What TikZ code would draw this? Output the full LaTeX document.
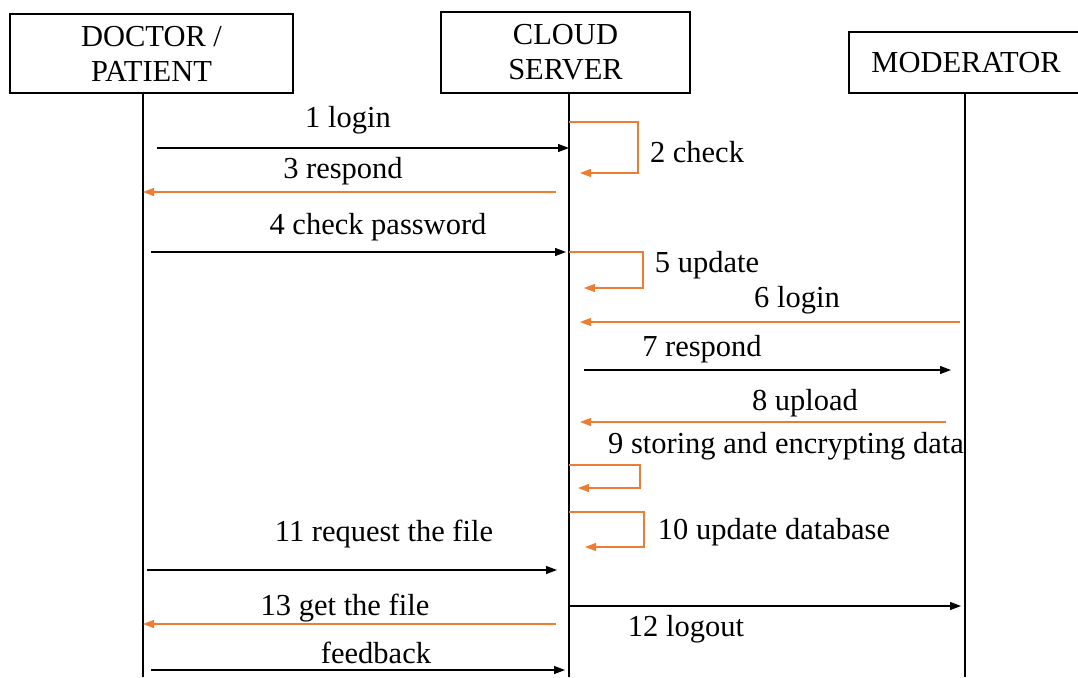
\documentclass[tikz,border=0pt]{standalone}
\usepackage{fontspec}
\setmainfont{Liberation Serif}
\usetikzlibrary{arrows.meta}
\definecolor{msgorange}{HTML}{ED7D31}

\begin{document}
\begin{tikzpicture}[x=1pt,y=-1pt,
  font=\fontsize{30.5}{35}\selectfont,
  actor/.style={draw,line width=1.2pt,align=center,inner sep=0pt},
  lifeline/.style={line width=1.2pt},
  call/.style={line width=1.2pt,-{Triangle[length=11pt,width=8pt]}},
  reply/.style={call,msgorange},
  lbl/.style={inner sep=0pt}]
 \useasboundingbox (0,0) rectangle (1078,677);
 % actors
 \node[actor,minimum width=283pt,minimum height=79pt] (doc) at (151.5,53.5) {DOCTOR /\\PATIENT};
 \node[actor,minimum width=249pt,minimum height=81pt] (cloud) at (565.5,52.5) {CLOUD\\SERVER};
 \node[actor,minimum width=234pt,minimum height=61pt] (mod) at (966,62.5) {MODERATOR};
 % lifelines
 \foreach \n/\x/\y in {doc/143/93, cloud/569/93, mod/965/93}
 {
   \coordinate (\n top) at (\x,\y);
   \coordinate (\n end) at (\x,677);
   \draw[lifeline] (\n top) -- (\n end);
 }
 % messages between lifelines
 \foreach \n/\xa/\xb/\y/\sty in {1/157/569/148/call, 3/556/143/192/reply, 4/151/566/252/call,
   6/960/580/322/reply, 7/584/951/370/call, 8/946/580/422/reply, 11/147/557/570/call,
   12/569/961/606/call, 13/556/143/624/reply, 14/151/565/670/call}
 {
   \coordinate (m\n a) at (\xa,\y);
   \coordinate (m\n b) at (\xb,\y);
   \draw[\sty] (m\n a) -- (m\n b);
 }
 % self calls on the server
 \foreach \n/\ya/\xr/\yb/\xe in {2/122/638/173/580, 5/252/643/288/584, 9/465/640/488/578, 10/512/644/547/585}
 {
   \coordinate (s\n a) at (569,\ya);
   \coordinate (s\n c) at (\xr,\yb);
   \coordinate (s\n b) at (\xe,\yb);
   \draw[reply] (s\n a) -| (s\n c) -- (s\n b);
 }
 % labels
 \foreach \n/\x/\y/\txt in {1/348/120/1 login, 2/697/152/2 check, 3/343/171/3 respond,
   4/378/227/4 check password, 5/707/265/5 update, 6/797/300/6 login, 7/702/349/7 respond,
   8/805/403/8 upload, 9/786/446/9 storing and encrypting data, 10/774/532/10 update database,
   11/384/534/11 request the file, 12/686/629/12 logout, 13/345/608/13 get the file,
   14/376/653/feedback}
 {
   \node[lbl] (l\n) at (\x,\y) {\txt};
 }
\end{tikzpicture}
\end{document}
